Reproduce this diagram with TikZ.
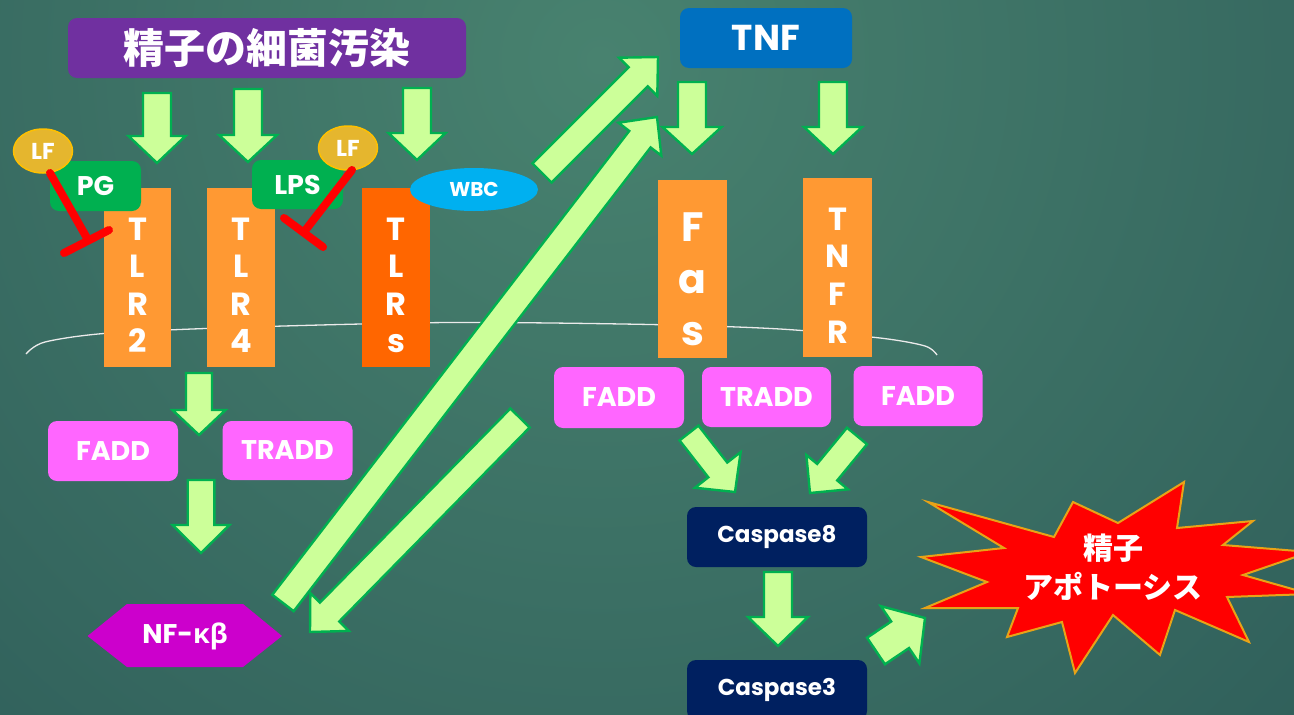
\documentclass[tikz,border=0pt]{standalone}
\usepackage{fontspec}
\setmainfont{Poppins}
\newfontfamily\jp{Noto Sans CJK JP}
\newfontfamily\grk{Open Sans}
\usetikzlibrary{calc,shapes.geometric}
\definecolor{bgd}{HTML}{285454}
\definecolor{bgl}{HTML}{48826F}
\definecolor{lime}{HTML}{CCFF99}
\definecolor{arrgreen}{HTML}{00B050}
\definecolor{tlrorange}{HTML}{FF9933}
\definecolor{tlrsorange}{HTML}{FF6600}
\definecolor{pinkbox}{HTML}{FF66FF}
\definecolor{navy}{HTML}{002060}
\definecolor{tnfblue}{HTML}{0070C0}
\definecolor{titlepurple}{HTML}{7030A0}
\definecolor{lfgold}{HTML}{E5B62E}
\definecolor{lfborder}{HTML}{FFC000}
\definecolor{wbcblue}{HTML}{00B0F0}
\definecolor{nfmag}{HTML}{CC00CC}
\definecolor{boomborder}{HTML}{E8A317}
\definecolor{inhred}{HTML}{FF0000}
\tikzset{
  blockarrow/.style={fill=lime, draw=arrgreen, line width=2.4pt, line join=miter},
  box/.style={rounded corners=9pt, inner sep=0pt, text=white, font=\bfseries\fontsize{27}{30}\selectfont},
  tlrbox/.style={inner sep=0pt, minimum height=179pt, fill=tlrorange},
  vl/.style={anchor=base, text=white, inner sep=0pt, font=\bfseries\fontsize{32}{34}\selectfont},
  lfnode/.style={ellipse, fill=lfgold, draw=lfborder, line width=1.5pt, minimum width=59pt, minimum height=44pt, inner sep=0pt, text=white, font=\bfseries\fontsize{23}{25}\selectfont},
  inhib/.style={draw=inhred, line width=8pt, line cap=round},
  membrane/.style={draw=white!92!black, line width=1.3pt},
}
\newcommand\barr[5]{%
  \coordinate (bA) at #1; \coordinate (bB) at #2;
  \coordinate (bN) at ($(bB)!#5!(bA)$);
  \draw[blockarrow] ($(bA)!#3!90:(bB)$) -- ($(bN)!#3!90:(bB)$) -- ($(bN)!#4!90:(bB)$) -- (bB)
     -- ($(bN)!#4!-90:(bB)$) -- ($(bN)!#3!-90:(bB)$) -- ($(bA)!#3!-90:(bB)$) -- cycle;}
\begin{document}
\begin{tikzpicture}[x=1pt,y=-1pt]
\useasboundingbox (0,0) rectangle (1294,715);
\clip (0,0) rectangle (1294,715);
% background
\fill[bgd] (0,0) rectangle (1294,715);
\shade[inner color=bgl, outer color=bgd] (600,60) circle (1300);
% membrane
\draw[membrane] plot[smooth] coordinates {(26,354) (45,342) (110,333) (250,327) (450,322.5) (650,324.5) (780,329) (880,338) (925,346) (937,355)};
% title
\node[box, fill=titlepurple, minimum width=398pt, minimum height=60pt, font=\jp\bfseries\fontsize{41}{44}\selectfont] (title) at (267,48) {精子の細菌汚染};
\node[box, fill=tnfblue, minimum width=172pt, minimum height=60pt, font=\bfseries\fontsize{36}{40}\selectfont] (tnf) at (766,38) {TNF};
% TLR receptors
\node[tlrbox, minimum width=67pt] (tlr2) at (137.5,277.5) {};
\node[tlrbox, minimum width=68pt] (tlr4) at (241,277.5) {};
\node[tlrbox, minimum width=68pt, fill=tlrsorange] (tlrs) at (396,277.5) {};
\foreach \l [count=\i] in {T,L,R,2} \node[vl] (tlr2-\i) at (137.5,{240+37.5*(\i-1)}) {\l};
\foreach \l [count=\i] in {T,L,R,4} \node[vl] (tlr4-\i) at (241,{240+37.5*(\i-1)}) {\l};
\foreach \l [count=\i] in {T,L,R,s} \node[vl] (tlrs-\i) at (396,{240+37.5*(\i-1)}) {\l};
% Fas / TNFR
\node[tlrbox, minimum width=69pt, minimum height=178pt] (fas) at (692.5,269) {};
\node[tlrbox, minimum width=69pt, minimum height=179pt] (tnfr) at (837.5,267.5) {};
\foreach \l [count=\i] in {F,a,s} \node[vl, font=\bfseries\fontsize{41}{44}\selectfont] (fas-\i) at (692.5,{241+52*(\i-1)}) {\l};
\foreach \l [count=\i] in {T,N,F,R} \node[vl] (tnfr-\i) at (837.5,{230+37.7*(\i-1)}) {\l};
% ligands
\node[box, fill=arrgreen, minimum width=91pt, minimum height=50pt] (pg) at (95.5,186) {PG};
\node[box, fill=arrgreen, minimum width=91pt, minimum height=49pt] (lps) at (297.5,184.5) {LPS};
\node[lfnode] (lf1) at (43,151) {LF};
\node[lfnode] (lf2) at (348,148) {LF};
\node[ellipse, fill=wbcblue, minimum width=128pt, minimum height=43pt, inner sep=0pt, text=white, font=\bfseries\fontsize{20}{22}\selectfont] (wbc) at (474,189.5) {WBC};
% inhibition
\coordinate (inh1) at (87.5,239);
\coordinate (inh1a) at (64,253);
\coordinate (inh1b) at (109,230);
\draw[inhib] (50,173) -- (inh1);
\draw[inhib] (inh1a) -- (inh1b);
\coordinate (inh2) at (304,232);
\coordinate (inh2a) at (284,218);
\coordinate (inh2b) at (323,247);
\draw[inhib] (352,170) -- (inh2);
\draw[inhib] (inh2a) -- (inh2b);
% adaptor boxes
\node[box, fill=pinkbox, minimum width=130pt, minimum height=60pt] (fadd1) at (113,451) {FADD};
\node[box, fill=pinkbox, minimum width=130pt, minimum height=59pt] (tradd1) at (287.5,450.5) {TRADD};
\node[box, fill=pinkbox, minimum width=130pt, minimum height=61pt] (fadd2) at (619,397.5) {FADD};
\node[box, fill=pinkbox, minimum width=129pt, minimum height=60pt] (tradd2) at (766.5,397) {TRADD};
\node[box, fill=pinkbox, minimum width=129pt, minimum height=60pt] (fadd3) at (918,396) {FADD};
% caspases
\node[box, fill=navy, minimum width=180pt, minimum height=60pt, font=\bfseries\fontsize{23}{26}\selectfont] (casp8) at (777,537) {Caspase8};
\node[box, fill=navy, minimum width=180pt, minimum height=60pt, font=\bfseries\fontsize{23}{26}\selectfont] (casp3) at (777,690) {Caspase3};
% NF-kB
\fill[nfmag] (87.5,636) -- (127,604) -- (243,604) -- (282,636) -- (243,667) -- (127,667) -- cycle;
\node[text=white, font=\bfseries\fontsize{27}{30}\selectfont, inner sep=0pt] (nf) at (185,636) {NF-{\grk\bfseries κβ}};
% apoptosis burst
\filldraw[fill=inhred, draw=boomborder, line width=2pt, line join=miter]
  (928,502) -- (1054,537) -- (1073,502) -- (1118,523) -- (1184,482) -- (1177,528)
  -- (1253,521) -- (1223,545) -- (1310,552) -- (1243,575) -- (1310,594) -- (1227,597)
  -- (1249,642) -- (1175,610) -- (1160,655) -- (1113,615) -- (1075,673) -- (1062,622)
  -- (1007,637) -- (1018,608) -- (925,608) -- (987,582) -- (921,557) -- (1004,548) -- cycle;
\node[align=center, text=white, inner sep=0pt, font=\jp\bfseries\fontsize{30}{39}\selectfont] (apop) at (1113,567.5) {精子\\アポトーシス};
% block arrows
\barr{(157,93)}{(157,163)}{14pt}{28.5pt}{27pt}
\barr{(248,89)}{(248,162)}{14pt}{29pt}{27pt}
\barr{(417,88)}{(417,160)}{14pt}{28.5pt}{27pt}
\barr{(692,82)}{(692,154)}{14pt}{29.5pt}{27pt}
\barr{(833,82)}{(833,154)}{14pt}{29pt}{27pt}
\barr{(199,373)}{(199,435)}{13pt}{26.5pt}{25pt}
\barr{(201,480)}{(201,553)}{13.3pt}{28.5pt}{28pt}
\barr{(542,173)}{(658,57)}{13.5pt}{27pt}{28pt}
\barr{(283,603)}{(657,117)}{13.5pt}{27pt}{28pt}
\barr{(520,418)}{(310,632)}{13.5pt}{27pt}{28pt}
\barr{(689,433)}{(735,492)}{12pt}{29pt}{28pt}
\barr{(857,436)}{(810,493)}{13pt}{27pt}{27pt}
\barr{(778,572)}{(778,646)}{14pt}{30pt}{29pt}
\barr{(876,651)}{(925,618)}{16pt}{34.5pt}{30pt}
\end{tikzpicture}
\end{document}
